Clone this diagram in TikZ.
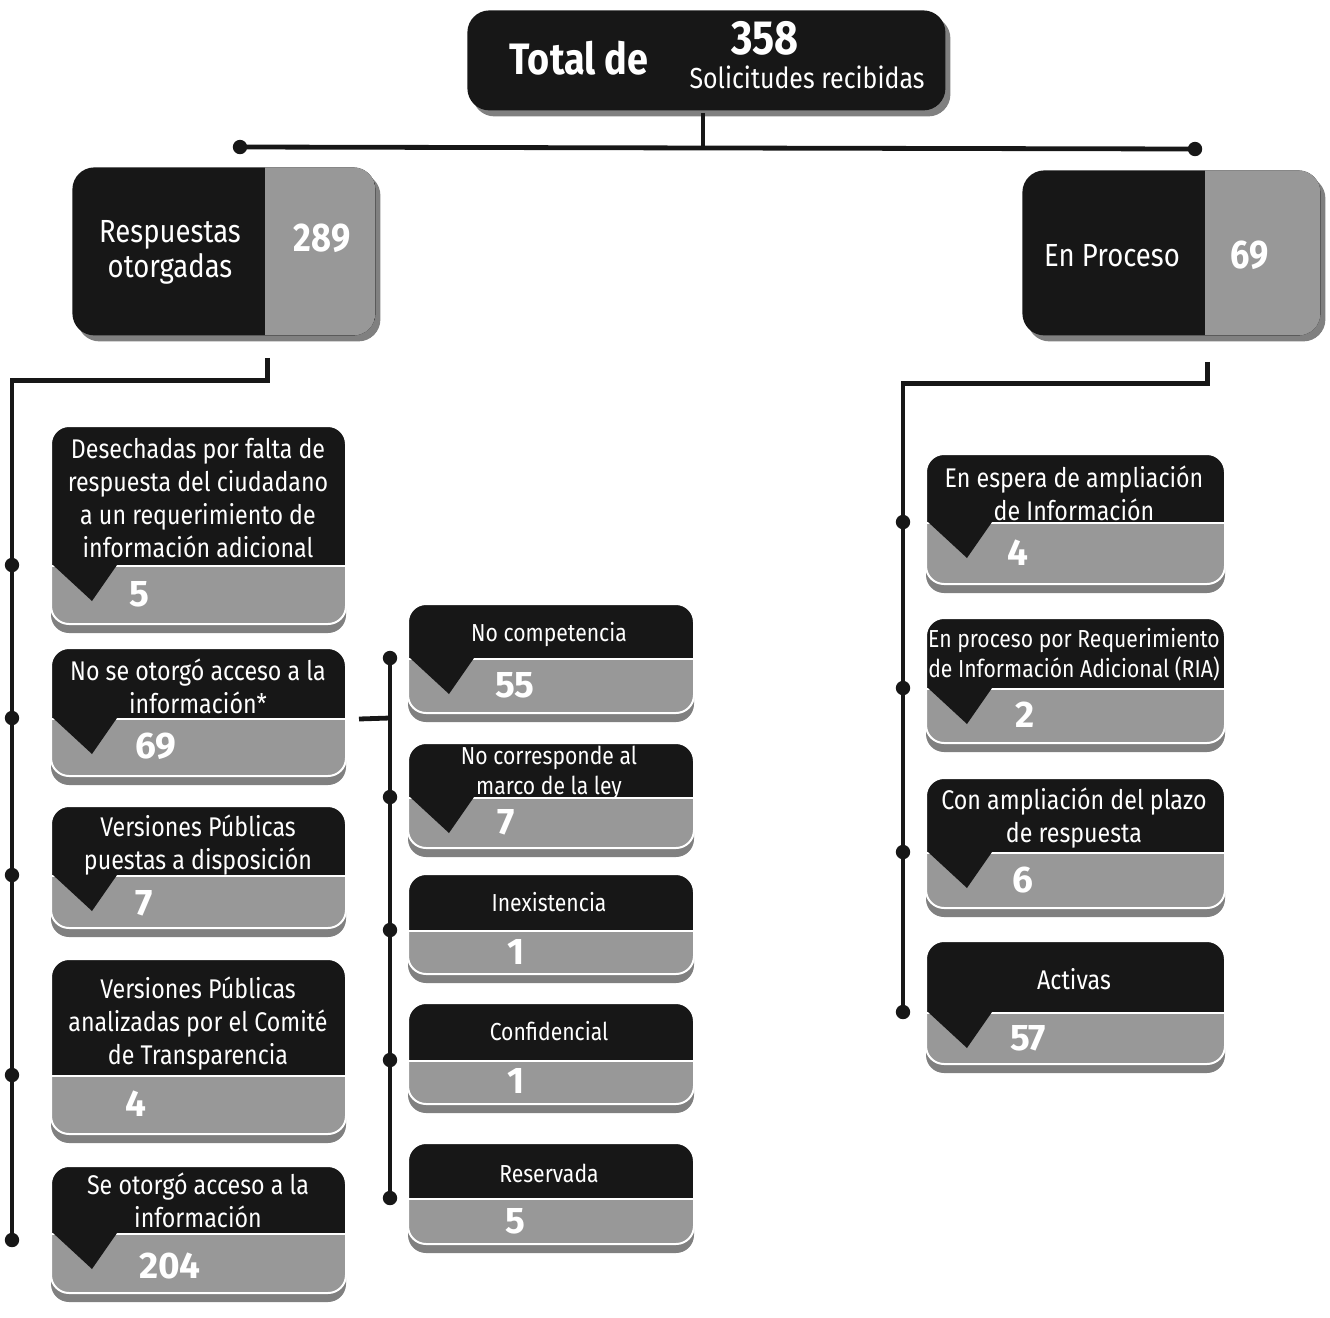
\documentclass[tikz,border=0pt]{standalone}
\usepackage{fontspec}
\setmainfont{Fira Sans}[FakeStretch=0.86]
\newfontfamily\numfont{Fira Sans}
\usepackage{tikz}
\usetikzlibrary{shadows, calc, positioning}

\definecolor{inkdark}{HTML}{171717}
\definecolor{cardgray}{HTML}{989898}
\definecolor{shadegray}{HTML}{808080}

\tikzset{
  card/.style n args={3}{fill=cardgray, draw=white, line width=1pt, rounded corners=9pt,
    minimum width=#1, minimum height=#2, inner sep=0pt, anchor=north west,
    drop shadow={shadow xshift=0pt, shadow yshift=-4.5pt, fill=shadegray, opacity=1},
    path picture={
      \fill[inkdark, sharp corners] (path picture bounding box.north west) rectangle ([yshift=#3]path picture bounding box.south east);
      \draw[white, line width=1.2pt, sharp corners] ([yshift=#3]path picture bounding box.south west) -- ([yshift=#3]path picture bounding box.south east);}},
  headbox/.style={fill=inkdark, rounded corners=11pt, inner sep=0pt,
    drop shadow={shadow xshift=2.5pt, shadow yshift=-3pt, fill=shadegray, opacity=1}},
  cardtext/.style={text=white, align=center, font=\fontsize{13.5}{16.5}\selectfont},
  smalltext/.style={text=white, align=center, font=\fontsize{12.3}{15}\selectfont},
  cardnum/.style={text=white, anchor=west, font=\numfont\fontsize{18.5}{18.5}\selectfont\bfseries},
  notch/.style={fill=inkdark},
  link/.style={draw=inkdark, line width=2.4pt},
  knot/.style={fill=inkdark},
}

\begin{document}
\begin{tikzpicture}[x=0.5pt, y=-0.5pt]
\useasboundingbox (0,0) rectangle (1330,1318);

% cabecera
\node[headbox, minimum width=239pt, minimum height=50pt, anchor=north west] (total) at (467,10) {};
\node[text=white, font=\fontsize{22}{22}\selectfont\bfseries] (totlbl) at (579,58) {Total de};
\node[text=white, font=\fontsize{24}{24}\selectfont\bfseries] (totnum) at (765,38) {358};
\node[text=white, font=\fontsize{14.5}{14.5}\selectfont] (totsub) at (807,77) {Solicitudes recibidas};

\coordinate (branch) at (703,147);
\coordinate (lbranch) at (240,147);
\coordinate (rbranch) at (1195,149);
\draw[link] ([yshift=-1pt]total.south -| branch) -- (branch);
\draw[link] (lbranch) -- (rbranch);
\fill[knot] (lbranch) circle[radius=3.6pt];
\fill[knot] (rbranch) circle[radius=3.6pt];

% respuestas y en proceso
\node[headbox, minimum width=151.5pt, minimum height=84pt, anchor=north west,
  path picture={\fill[cardgray, sharp corners] ([xshift=-55pt]path picture bounding box.north east) rectangle (path picture bounding box.south east);}] (resp) at (72,167) {};
\node[text=white, align=center, font=\fontsize{16}{17.5}\selectfont] (resplbl) at (170,252) {Respuestas\\otorgadas};
\node[text=white, font=\fontsize{20}{20}\selectfont\bfseries] (respnum) at (322,238) {289};

\node[headbox, minimum width=149pt, minimum height=82.5pt, anchor=north west,
  path picture={\fill[cardgray, sharp corners] ([xshift=-57.5pt]path picture bounding box.north east) rectangle (path picture bounding box.south east);}] (proc) at (1022,170) {};
\node[text=white, font=\fontsize{16}{17.5}\selectfont] (proclbl) at (1112,256) {En Proceso};
\node[text=white, font=\fontsize{20}{20}\selectfont\bfseries] (procnum) at (1250,255) {69};

% columna izquierda
\node[card={147.5pt}{99pt}{29pt}] (desech) at (50,425) {};
\node[card={147.5pt}{64pt}{28.5pt}] (nootor) at (50,647) {};
\node[card={147.5pt}{61pt}{26pt}] (verpub) at (50,805) {};
\node[card={147.5pt}{87.5pt}{29pt}] (veranl) at (50,958) {};
\node[card={147.5pt}{63.5pt}{29.5pt}] (seotor) at (50,1165) {};

% columna central
\node[card={143pt}{54.5pt}{27pt}] (nocomp) at (407,603) {};
\node[card={143pt}{52.5pt}{25pt}] (nocorr) at (407,742) {};
\node[card={143pt}{50pt}{21.5pt}] (inexis) at (407,873) {};
\node[card={143pt}{50.5pt}{21.5pt}] (confid) at (407,1002) {};
\node[card={143pt}{50.5pt}{22.5pt}] (reserv) at (407,1142) {};

% columna derecha
\node[card={149.5pt}{65pt}{30.5pt}] (espera) at (925,453) {};
\node[card={149.5pt}{62.5pt}{27pt}] (ria) at (925,617) {};
\node[card={149.5pt}{65pt}{27.5pt}] (plazo) at (925,777) {};
\node[card={149.5pt}{61.5pt}{25.5pt}] (activ) at (925,940) {};

\foreach \c/\h in {desech/140, nootor/71, verpub/70, seotor/68, nocomp/55, nocorr/55, espera/69, ria/71, plazo/75, activ/72}
  \fill[notch] (\c.north west) ++(3,\h) -- ++(39,36) -- ++(25,-36) -- cycle;

% textos
\node[cardtext] (desechlbl) at (198,498) {Desechadas por falta de\\respuesta del ciudadano\\a un requerimiento de\\información adicional};
\node[cardtext] (nootorlbl) at (198,686) {No se otorgó acceso a la\\información*};
\node[cardtext] (verpublbl) at (198,845) {Versiones Públicas\\puestas a disposición};
\node[cardtext] (veranllbl) at (198,1024) {Versiones Públicas\\analizadas por el Comité\\de Transparencia};
\node[cardtext] (seotorlbl) at (198,1200) {Se otorgó acceso a la\\información};
\node[smalltext] (nocomplbl) at (549,635) {No competencia};
\node[smalltext] (nocorrlbl) at (549,773) {No corresponde al\\marco de la ley};
\node[smalltext] (inexislbl) at (549,902) {Inexistencia};
\node[smalltext] (confidlbl) at (549,1031) {Confidencial};
\node[smalltext] (reservlbl) at (549,1173) {Reservada};
\node[cardtext] (esperalbl) at (1074,493) {En espera de ampliación\\de Información};
\node[smalltext] (rialbl) at (1074,655) {En proceso por Requerimiento\\de Información Adicional (RIA)};
\node[cardtext] (plazolbl) at (1074,818) {Con ampliación del plazo\\de respuesta};
\node[cardtext] (activlbl) at (1074,979) {Activas};

\node[cardnum] (desechnum) at (122,594) {5};
\node[cardnum] (nootornum) at (128,746) {69};
\node[cardnum] (verpubnum) at (128,903) {7};
\node[cardnum] (veranlnum) at (118,1104) {4};
\node[cardnum] (seotornum) at (132,1266) {204};
\node[cardnum] (nocompnum) at (488,685) {55};
\node[cardnum] (nocorrnum) at (490,822) {7};
\node[cardnum] (inexisnum) at (500,952) {1};
\node[cardnum] (confidnum) at (500,1081) {1};
\node[cardnum] (reservnum) at (498,1221) {5};
\node[cardnum] (esperanum) at (1000,553) {4};
\node[cardnum] (rianum) at (1008,715) {2};
\node[cardnum] (plazonum) at (1005,880) {6};
\node[cardnum] (activnum) at (1003,1038) {57};

% conectores
\coordinate (lfoot) at (12,1240);
\coordinate (mtop) at (390,658);
\coordinate (mjoin) at (390,718);
\coordinate (mfoot) at (390,1198);
\coordinate (rfoot) at (903,1012);
\draw[link] ([shift={(21.75pt,-11pt)}]resp.south) -- ++(0,23) -| (lfoot);
\draw[link] ([shift={(18pt,-13pt)}]proc.south) -- ++(0,22) -| (rfoot);
\draw[link] ([shift={(6pt,-3.5pt)}]nootor.east) -- (mjoin);
\draw[link] (mtop) -- (mfoot);
\foreach \y in {565,718,875,1075,1240} \fill[knot] (12,\y) circle[radius=3.6pt];
\foreach \y in {658,797,930,1060,1198} \fill[knot] (390,\y) circle[radius=3.6pt];
\foreach \y in {522,688,852,1012} \fill[knot] (903,\y) circle[radius=3.6pt];
\end{tikzpicture}
\end{document}
